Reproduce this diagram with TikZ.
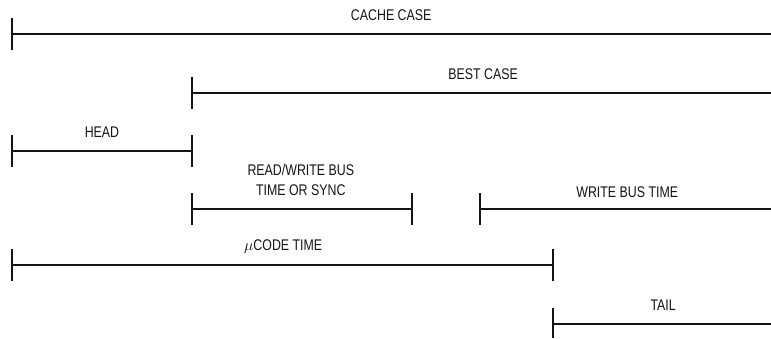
\documentclass[tikz,border=0pt]{standalone}
\usepackage{fontspec}
\usepackage{tikz}
\newfontfamily\figfont[FakeStretch=0.8]{Liberation Sans}
\definecolor{figline}{RGB}{20,20,20}
\tikzset{
  bar/.style ={draw=figline, line width=1.4pt, line cap=butt},
  tk/.style  ={draw=figline, line width=0.9pt},
  lab/.style ={font=\figfont\fontsize{11}{14}\selectfont, inner sep=1pt, text=figline},
}

\begin{document}
\begin{tikzpicture}[scale=1]
  \useasboundingbox (0,0) rectangle (19.275,8.45);
  % cache case
  \draw[bar] (0.3,7.6) -- (19.275,7.6);
  \draw[tk] (0.3,7.2) -- (0.3,8.0);
  \node[lab] (cache) at (9.78,8.075) {CACHE CASE};
  % best case
  \draw[bar] (4.8,6.125) -- (19.275,6.125);
  \draw[tk] (4.8,5.725) -- (4.8,6.525);
  \node[lab] (best) at (12.08,6.6) {BEST CASE};
  % head
  \draw[bar] (0.3,4.675) -- (4.8,4.675);
  \draw[tk] (0.3,4.275) -- (0.3,5.075);
  \draw[tk] (4.8,4.275) -- (4.8,5.075);
  \node[lab] (head) at (2.55,5.15) {HEAD};
  % read/write bus time or sync
  \draw[bar] (4.8,3.225) -- (10.3,3.225);
  \draw[tk] (4.8,2.825) -- (4.8,3.625);
  \draw[tk] (10.3,2.825) -- (10.3,3.625);
  \node[lab,align=center] (rwbus) at (7.52,3.95) {READ/WRITE BUS\\TIME OR SYNC};
  % write bus time
  \draw[bar] (12.0,3.225) -- (19.275,3.225);
  \draw[tk] (12.0,2.825) -- (12.0,3.625);
  \node[lab] (wbus) at (15.68,3.65) {WRITE BUS TIME};
  % microcode time
  \draw[bar] (0.3,1.825) -- (13.825,1.825);
  \draw[tk] (0.3,1.425) -- (0.3,2.225);
  \draw[tk] (13.825,1.425) -- (13.825,2.225);
  \node[lab] (ucode) at (7.08,2.275) {$\mu$CODE TIME};
  % tail
  \draw[bar] (13.825,0.35) -- (19.275,0.35);
  \draw[tk] (13.825,0) -- (13.825,0.75);
  \node[lab] (tail) at (16.58,0.825) {TAIL};
\end{tikzpicture}
\end{document}
